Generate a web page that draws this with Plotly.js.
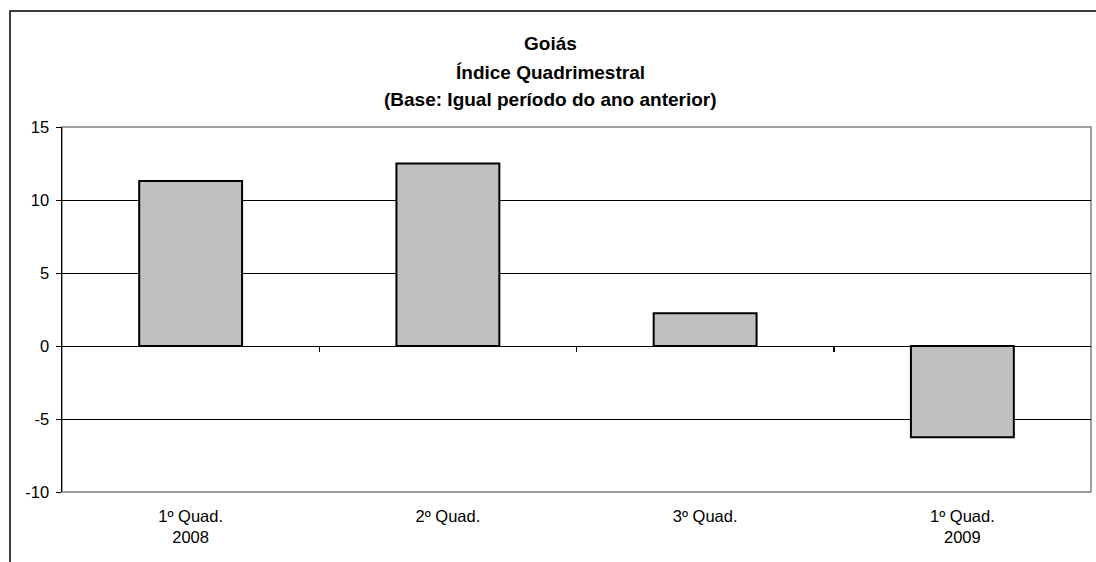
<!DOCTYPE html>
<html>
<head>
<meta charset="utf-8">
<script src="https://cdn.plot.ly/plotly-3.0.1.min.js"></script>
<style>
  html, body { margin: 0; padding: 0; background: #fff; }
  #chart { width: 1096px; height: 562px; }
</style>
</head>
<body>
<div id="chart"></div>
<script>
// Data
const categories = ["q1_2008", "q2_2008", "q3_2008", "q1_2009"];
const tickLabels = ["1º Quad.<br>2008", "2º Quad.", "3º Quad.", "1º Quad.<br>2009"];
const values = [11.3, 12.5, 2.25, -6.25];
const titleLines = ["Goiás", "Índice Quadrimestral", "(Base: Igual período do ano anterior)"];
const yTicks = [-10, -5, 0, 5, 10, 15];
const yTickLabels = ["-10", "-5", "0", "5", "10", "15"];

const W = 1096, H = 562;
const M = { l: 62, r: 5, t: 127, b: 70 };
const pw = W - M.l - M.r, ph = H - M.t - M.b;
const px2x = x => (x - M.l) / pw;
const py2y = y => (H - M.b - y) / ph;

const font = "Liberation Sans, Arial, sans-serif";

const traces = [
  {
    type: "bar",
    x: categories,
    y: values,
    width: 0.4,
    marker: { color: "#C0C0C0", line: { color: "#000", width: 2 } },
    hoverinfo: "skip"
  },
  {
    type: "scatter",
    mode: "markers",
    x: categories,
    y: values,
    xaxis: "x2",
    marker: { opacity: 0 },
    hoverinfo: "skip",
    showlegend: false
  }
];

const titleY = [44, 72, 99];
const annotations = titleLines.map((t, i) => ({
  text: "<b>" + t + "</b>",
  xref: "paper", yref: "paper",
  x: px2x(550), y: py2y(titleY[i]),
  xanchor: "center", yanchor: "middle",
  showarrow: false,
  font: { family: font, size: 19, color: "#000" }
}));

const layout = {
  width: W, height: H,
  margin: M,
  paper_bgcolor: "#fff",
  plot_bgcolor: "#fff",
  showlegend: false,
  font: { family: font, size: 16, color: "#000" },
  xaxis: {
    type: "category",
    range: [-0.5, 3.5],
    tickvals: categories,
    ticktext: tickLabels,
    showgrid: false,
    showline: false,
    zeroline: false,
    ticks: "",
    ticklabelstandoff: 12,
    tickfont: { family: font, size: 16.5, color: "#000" },
    fixedrange: true
  },
  xaxis2: {
    type: "category",
    overlaying: "x",
    matches: "x",
    anchor: "free",
    position: (0 - yTicks[0]) / (yTicks[yTicks.length - 1] - yTicks[0]),
    side: "bottom",
    tickmode: "array",
    tickvals: [0.5, 1.5, 2.5],
    ticks: "outside",
    ticklen: 5,
    tickwidth: 1.5,
    tickcolor: "#000",
    showticklabels: false,
    showgrid: false,
    showline: false,
    zeroline: false
  },
  yaxis: {
    range: [yTicks[0], yTicks[yTicks.length - 1]],
    tickvals: yTicks,
    ticktext: yTickLabels,
    showgrid: true,
    gridcolor: "#000",
    gridwidth: 1,
    zeroline: true,
    zerolinecolor: "#000",
    zerolinewidth: 1,
    showline: true,
    linecolor: "#000",
    linewidth: 1.5,
    ticks: "outside",
    ticklen: 5,
    tickcolor: "#000",
    ticklabelstandoff: 3,
    tickfont: { family: font, size: 16.5, color: "#000" },
    fixedrange: true
  },
  shapes: [
    {
      type: "rect", xref: "paper", yref: "paper",
      x0: 0, x1: 1, y0: 0, y1: 1,
      line: { color: "#808080", width: 1.5 },
      layer: "below"
    },
    {
      type: "path", xref: "paper", yref: "paper",
      path: `M ${px2x(10)} ${py2y(H + 10)} L ${px2x(10)} ${py2y(11)} L ${px2x(W + 10)} ${py2y(11)}`,
      line: { color: "#000", width: 1.5 }
    }
  ],
  annotations: annotations
};

Plotly.newPlot("chart", traces, layout, { displayModeBar: false, staticPlot: true });
</script>
</body>
</html>
